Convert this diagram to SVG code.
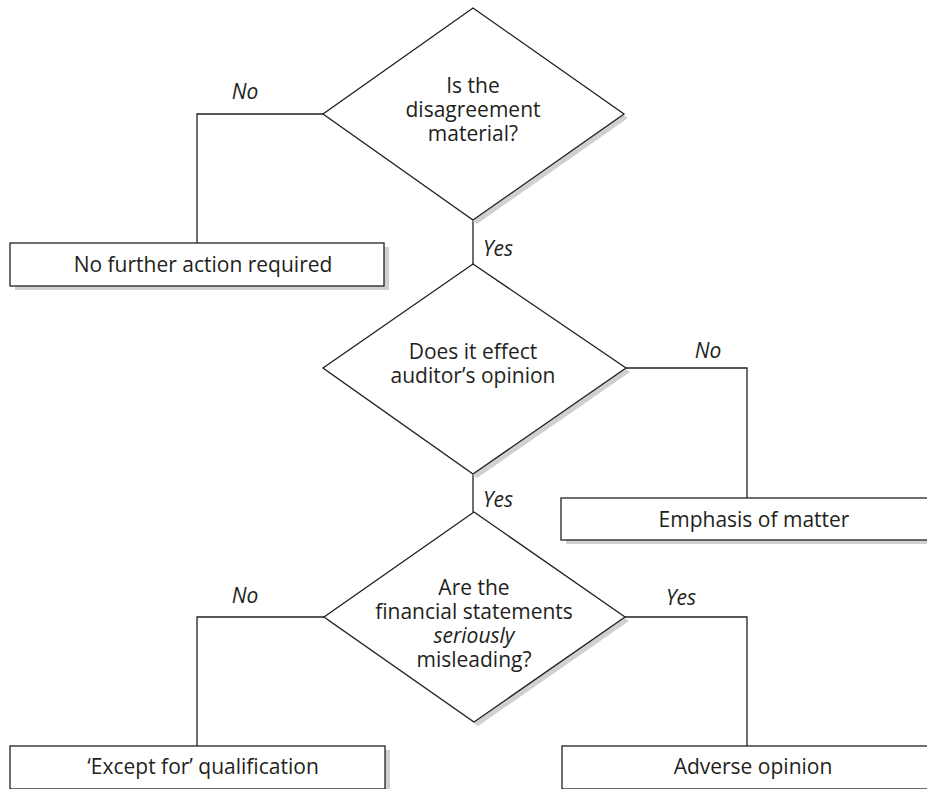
<svg xmlns="http://www.w3.org/2000/svg" width="927" height="789" viewBox="0 0 927 789">
<defs>
<style>
.shape{fill:#fff;stroke:#231f20;stroke-width:1.3}
.shadow{fill:#cfd0d2;stroke:none}
.conn{fill:none;stroke:#231f20;stroke-width:1.3}
text{font-family:"Open Sans","Noto Sans","Liberation Sans",sans-serif;font-size:21px;fill:#231f20;text-anchor:middle}
.lbl{font-style:italic}
</style>
</defs>
<rect width="927" height="789" fill="#fff"/>
<g id="connectors">
<polyline class="conn" points="323,114 197,114 197,243"/>
<line class="conn" x1="473" y1="220" x2="473" y2="264"/>
<polyline class="conn" points="626,368 747,368 747,498"/>
<line class="conn" x1="473" y1="474" x2="473" y2="512"/>
<polyline class="conn" points="324,617 197,617 197,746"/>
<polyline class="conn" points="625,617 747,617 747,746"/>
<text class="lbl" x="245" y="99">No</text>
<text class="lbl" x="498" y="256">Yes</text>
<text class="lbl" x="708" y="358">No</text>
<text class="lbl" x="498" y="507">Yes</text>
<text class="lbl" x="245" y="603">No</text>
<text class="lbl" x="681" y="605">Yes</text>
</g>
<g id="d1">
<polygon class="shadow" points="477,12 628,118 477,224 328,118"/>
<polygon class="shape" points="473,8 624,114 473,220 323,114"/>
<text x="473" y="93">Is the</text>
<text x="473" y="117">disagreement</text>
<text x="473" y="141">material?</text>
</g>
<g id="box1">
<rect class="shadow" x="15" y="247" width="374" height="43"/>
<rect class="shape" x="10" y="243" width="374" height="43"/>
<text x="203" y="272">No further action required</text>
</g>
<g id="d2">
<polygon class="shadow" points="477,268 630,372 477,478 327,372"/>
<polygon class="shape" points="473,264 626,368 473,474 323,368"/>
<text x="473" y="359">Does it effect</text>
<text x="473" y="383">auditor’s opinion</text>
</g>
<g id="box2">
<rect class="shadow" x="566" y="502" width="390" height="42"/>
<rect class="shape" x="561" y="498" width="390" height="42"/>
<text x="754" y="527">Emphasis of matter</text>
</g>
<g id="d3">
<polygon class="shadow" points="478,516 629,621 478,726 328,621"/>
<polygon class="shape" points="474,512 625,617 474,722 324,617"/>
<text x="474" y="595">Are the</text>
<text x="474" y="619">financial statements</text>
<text x="474" y="643" font-style="italic">seriously</text>
<text x="474" y="667">misleading?</text>
</g>
<g id="box3">
<rect class="shadow" x="15" y="750" width="375" height="43"/>
<rect class="shape" x="10" y="746" width="375" height="43"/>
<text x="203" y="774">‘Except for’ qualification</text>
</g>
<g id="box4">
<rect class="shadow" x="567" y="750" width="390" height="43"/>
<rect class="shape" x="562" y="746" width="390" height="43"/>
<text x="753" y="774">Adverse opinion</text>
</g>
</svg>
